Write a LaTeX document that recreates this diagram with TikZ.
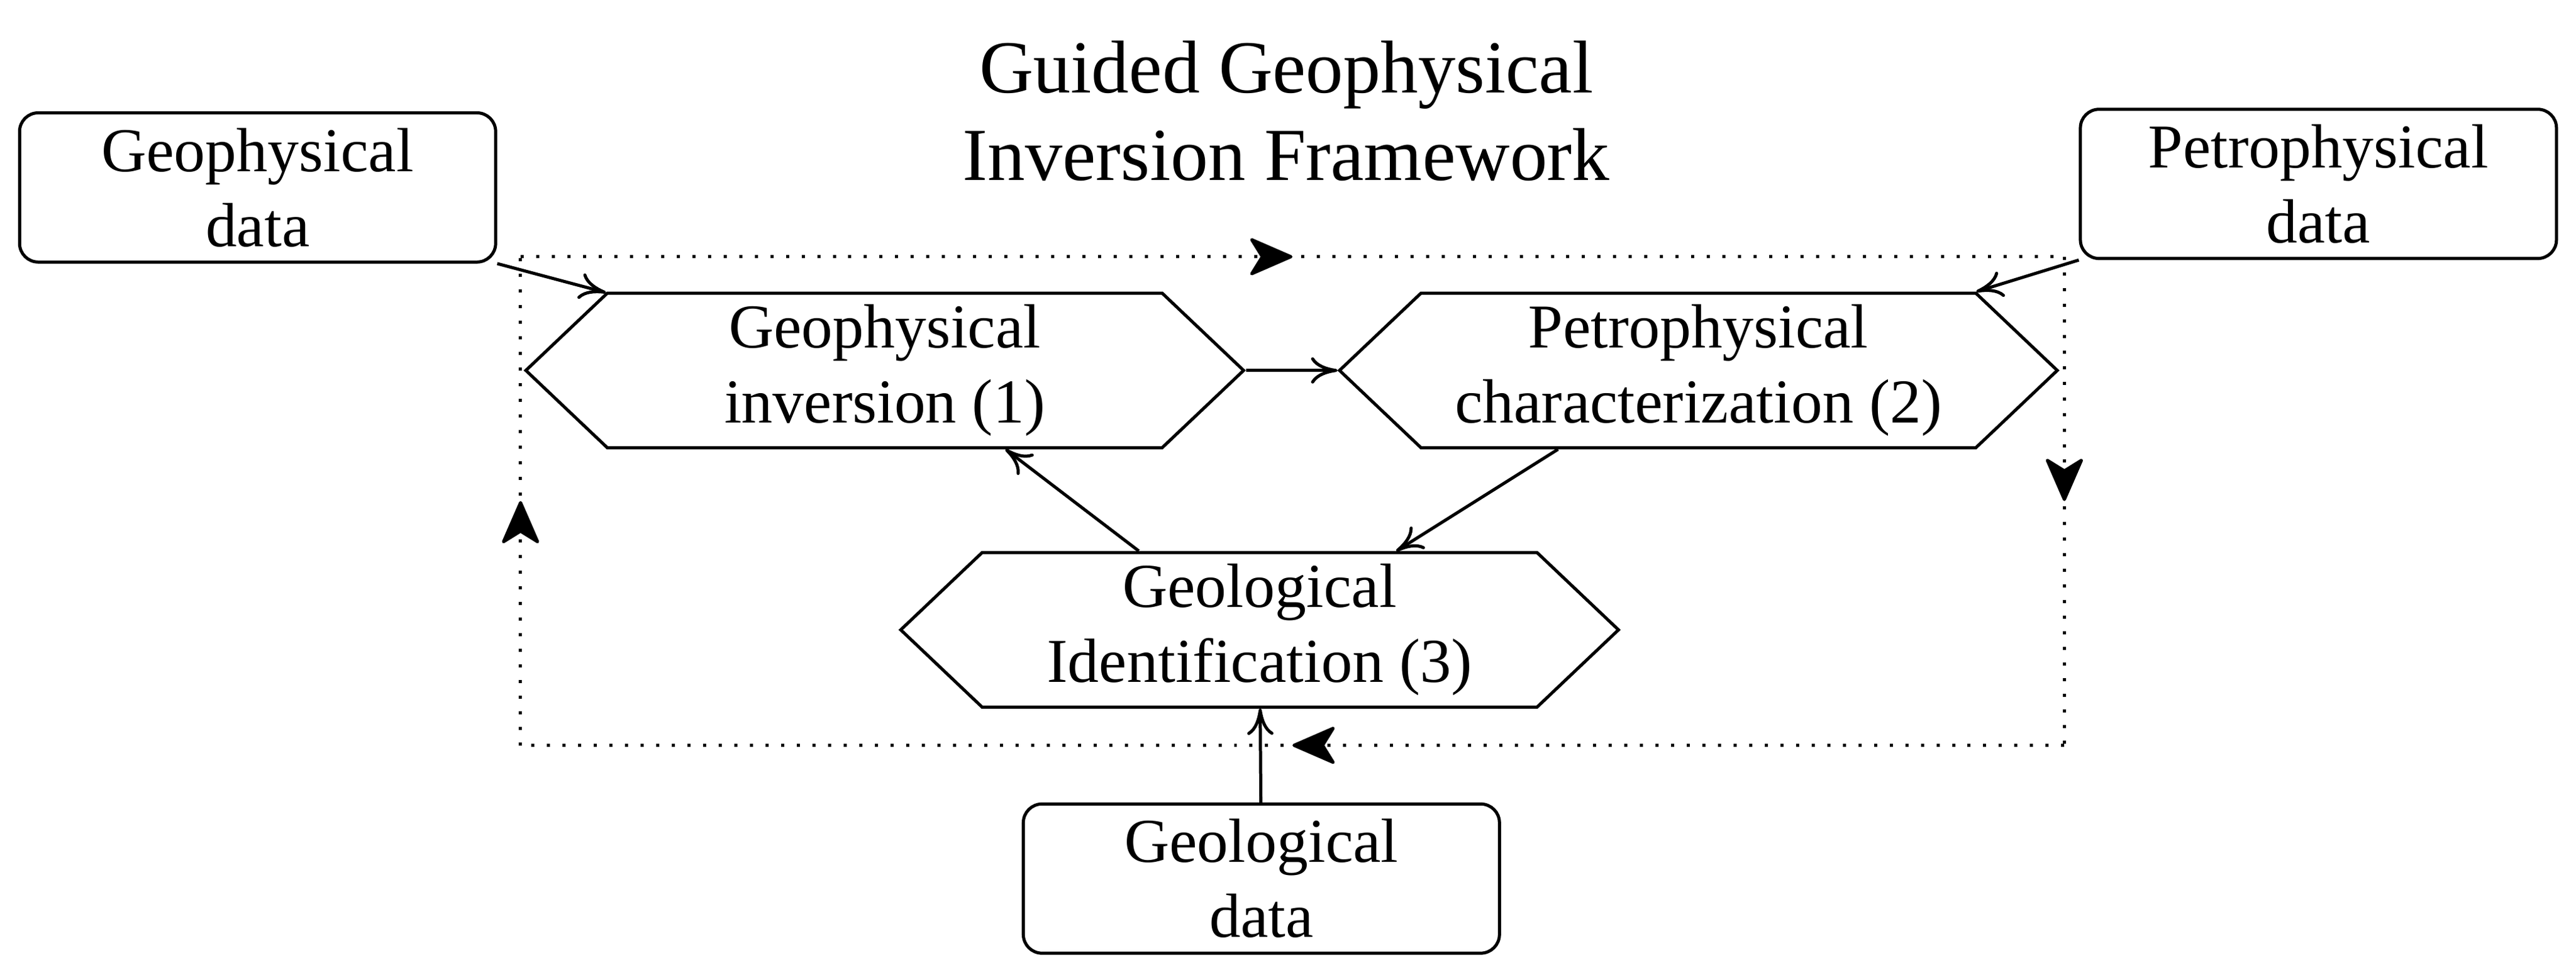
\documentclass[tikz,border=0pt]{standalone}
\usepackage{fontspec}
\setmainfont{Liberation Serif}
\usetikzlibrary{shapes.symbols,arrows.meta,decorations.markings}

\begin{document}
\begin{tikzpicture}[
  line width=0.5pt,
  databox/.style={draw, rounded corners=3pt, align=center, minimum width=2.68cm, minimum height=0.84cm, inner sep=1pt},
  stage/.style={draw, signal, signal to=west and east, signal pointer angle=87, align=center, minimum width=4.04cm, minimum height=0.87cm, inner sep=1pt},
  link/.style={-{To[length=4.2pt,width=4.2pt,round]}},
  loopline/.style={dotted, postaction={decorate}, decoration={markings, mark=at position 0.5 with {\arrow[solid]{Stealth[length=7.5pt,width=6.5pt,inset=2pt,round]}}}}
]
\useasboundingbox (0,0) rectangle (14.50,5.485);

% title
\node[font=\large, align=center] (title) at (7.24,4.86) {Guided Geophysical\\Inversion Framework};

% data sources
\node[databox] (geodata) at (1.45,4.43) {Geophysical\\data};
\node[databox] (petrodata) at (13.05,4.45) {Petrophysical\\data};
\node[databox] (geoldata) at (7.10,0.54) {Geological\\data};

% stages
\node[stage] (inv) at (4.98,3.40) {Geophysical\\inversion (1)};
\node[stage] (petro) at (9.56,3.40) {Petrophysical\\characterization (2)};
\node[stage] (geol) at (7.09,1.94) {Geological\\Identification (3)};

% outer loop
\coordinate (lt) at (2.93,4.04);
\coordinate (rt) at (11.62,4.04);
\coordinate (rb) at (11.62,1.29);
\coordinate (lb) at (2.93,1.29);
\draw[loopline] (lt) -- (rt);
\draw[loopline] (rt) -- (rb);
\draw[loopline] (rb) -- (lb);
\draw[loopline] (lb) -- (lt);

% links
\draw[link] (geodata.south east) -- (inv.north west);
\draw[link] (petrodata.south west) -- (petro.north east);
\draw[link] (inv.east) -- (petro.west);
\draw[link] ([xshift=-0.79cm]petro.south) -- ([xshift=0.77cm]geol.north);
\draw[link] ([xshift=-0.68cm]geol.north) -- ([xshift=0.68cm]inv.south);
\draw[link] (geoldata) -- (geol);
\end{tikzpicture}
\end{document}
